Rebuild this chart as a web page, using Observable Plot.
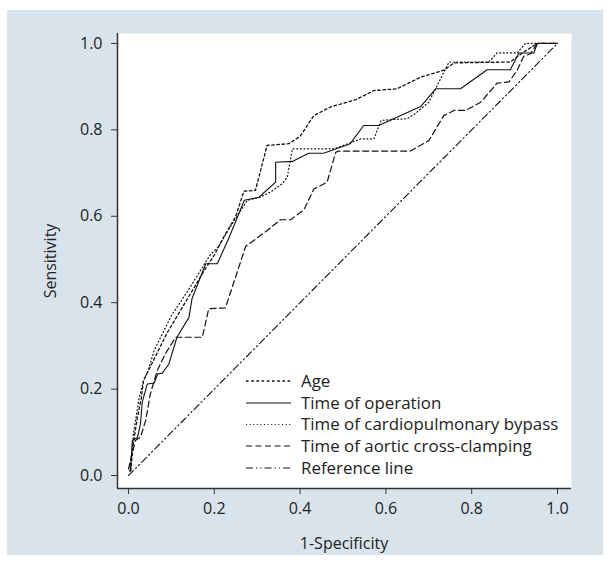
<!DOCTYPE html>
<html><head><meta charset="utf-8">
<script src="https://cdn.jsdelivr.net/npm/d3@7"></script>
<script src="https://cdn.jsdelivr.net/npm/@observablehq/plot@0.6"></script>
<style>
body{margin:0;background:#fff;font-family:"Open Sans",sans-serif;}
#wrap{position:relative;width:610px;height:568px;}
#chart{position:absolute;left:7px;top:10px;}
.lab{position:absolute;font-size:16px;color:#222;white-space:nowrap;}
#legend{position:absolute;left:0;top:0;}
</style></head><body>
<div id="wrap"><div id="chart"></div>
<div class="lab" id="xlab">1-Specificity</div>
<div class="lab" id="ylab">Sensitivity</div>
<svg id="legend" width="610" height="568"></svg>
</div>
<script>
// ---- data (1-specificity, sensitivity) ----
const ageX = [0.005,0.012,0.02,0.03,0.035,0.05,0.07,0.09,0.12,0.15,0.18,0.2,0.222,0.25,0.269,0.296,0.323,0.374,0.40,0.432,0.471,0.53,0.572,0.626,0.681,0.735,0.759,0.89,0.921,0.953,1.0];
const ageY = [0.01,0.08,0.13,0.18,0.22,0.25,0.29,0.33,0.38,0.43,0.48,0.51,0.552,0.6,0.658,0.66,0.764,0.768,0.785,0.833,0.853,0.87,0.891,0.895,0.922,0.938,0.955,0.957,0.98,1.0,1.0];
const opX = [0.005,0.009,0.021,0.028,0.032,0.044,0.06,0.068,0.079,0.094,0.113,0.141,0.148,0.18,0.207,0.235,0.27,0.284,0.304,0.343,0.343,0.382,0.42,0.455,0.517,0.548,0.583,0.681,0.716,0.774,0.836,0.89,0.91,0.945,0.953,1.0];
const opY = [0.012,0.081,0.088,0.12,0.17,0.212,0.214,0.235,0.237,0.258,0.32,0.366,0.409,0.49,0.49,0.552,0.637,0.64,0.644,0.679,0.725,0.727,0.746,0.746,0.768,0.81,0.81,0.854,0.895,0.895,0.939,0.939,0.978,0.978,1.0,1.0];
const cpbX = [0.003,0.012,0.025,0.035,0.045,0.06,0.08,0.1,0.12,0.14,0.165,0.19,0.21,0.24,0.277,0.304,0.331,0.358,0.37,0.382,0.479,0.541,0.572,0.589,0.65,0.665,0.70,0.747,0.84,0.859,0.906,0.925,1.0];
const cpbY = [0.01,0.1,0.18,0.22,0.24,0.29,0.33,0.37,0.40,0.43,0.47,0.51,0.53,0.58,0.637,0.643,0.656,0.675,0.69,0.756,0.756,0.779,0.779,0.822,0.826,0.835,0.864,0.957,0.957,0.978,0.978,1.0,1.0];
const aoX = [0.0,0.016,0.028,0.04,0.051,0.067,0.086,0.11,0.172,0.187,0.226,0.273,0.323,0.354,0.378,0.409,0.432,0.463,0.483,0.49,0.657,0.70,0.735,0.759,0.786,0.821,0.859,0.887,0.906,0.921,0.937,0.953,1.0];
const aoY = [0.015,0.081,0.089,0.127,0.189,0.243,0.282,0.32,0.32,0.386,0.388,0.53,0.567,0.592,0.592,0.615,0.663,0.679,0.748,0.751,0.751,0.775,0.833,0.845,0.845,0.864,0.908,0.911,0.938,0.97,0.976,1.0,1.0];
const refX = [0,1];
const refY = [0,1];
const seriesNames = ["Age","Time of operation","Time of cardiopulmonary bypass","Time of aortic cross-clamping","Reference line"];
const xTicks = [0,0.2,0.4,0.6,0.8,1.0];
const yTicks = [0,0.2,0.4,0.6,0.8,1.0];
const xDomain = [-0.0256, 1.0326];
const yDomain = [-0.030, 1.023];

const dashes = ["2.6,2.6", null, "1,2.6", "6,3.5", "7,3,1.3,3,1.3,3"];
const widths = [1.3, 1.1, 1.2, 1.2, 1.1];
const toRows = (xs, ys, s) => xs.map((x, i) => ({x, y: ys[i], s}));
const curves = [[ageX,ageY],[opX,opY],[cpbX,cpbY],[aoX,aoY],[refX,refY]];

const lineMarks = curves.map(([xs, ys], i) => Plot.line(toRows(xs, ys, seriesNames[i]), {
  x: "x", y: "y", stroke: "#111", strokeWidth: widths[i],
  strokeDasharray: dashes[i] || undefined
}));

const axisColor = "#333";
const chart = Plot.plot({
  width: 596, height: 545,
  marginLeft: 110, marginRight: 32, marginTop: 23, marginBottom: 67,
  style: {background: "#d9e3ec", fontFamily: "'Open Sans', sans-serif", fontSize: "16px", color: "#222"},
  x: {domain: xDomain},
  y: {domain: yDomain},
  marks: [
    Plot.frame({fill: "white", stroke: null}),
    ...lineMarks,
    Plot.axisX({ticks: xTicks, tickFormat: d3.format(".1f"), tickSize: 6, tickPadding: 8, label: null, stroke: axisColor, fill: "#222", fontSize: 16}),
    Plot.axisY({ticks: yTicks, tickFormat: d3.format(".1f"), tickSize: 6, tickPadding: 9, label: null, stroke: axisColor, fill: "#222", fontSize: 16}),
    Plot.ruleX([xDomain[0]], {stroke: axisColor, strokeWidth: 1.5}),
    Plot.ruleY([yDomain[0]], {stroke: axisColor, strokeWidth: 1.5})
  ]
});
document.getElementById("chart").appendChild(chart);

// axis titles
const xl = document.getElementById("xlab");
xl.style.left = "344px"; xl.style.top = "543px"; xl.style.transform = "translate(-50%,-50%)";
const yl = document.getElementById("ylab");
yl.style.left = "50px"; yl.style.top = "261px"; yl.style.transform = "translate(-50%,-50%) rotate(-90deg)";

// legend
const lg = d3.select("#legend");
const rowY = [381, 403, 424.5, 446, 468];
seriesNames.forEach((name, i) => {
  const g = lg.append("g");
  g.append("line").attr("x1", 246).attr("x2", 291).attr("y1", rowY[i]).attr("y2", rowY[i])
    .attr("stroke", "#111").attr("stroke-width", widths[i])
    .attr("stroke-dasharray", dashes[i] || null);
  g.append("text").attr("x", 301).attr("y", rowY[i]).attr("dy", "0.35em")
    .attr("font-family", "'Open Sans', sans-serif").attr("font-size", 16.9).attr("fill", "#222").text(name);
});
</script>
</body></html>
